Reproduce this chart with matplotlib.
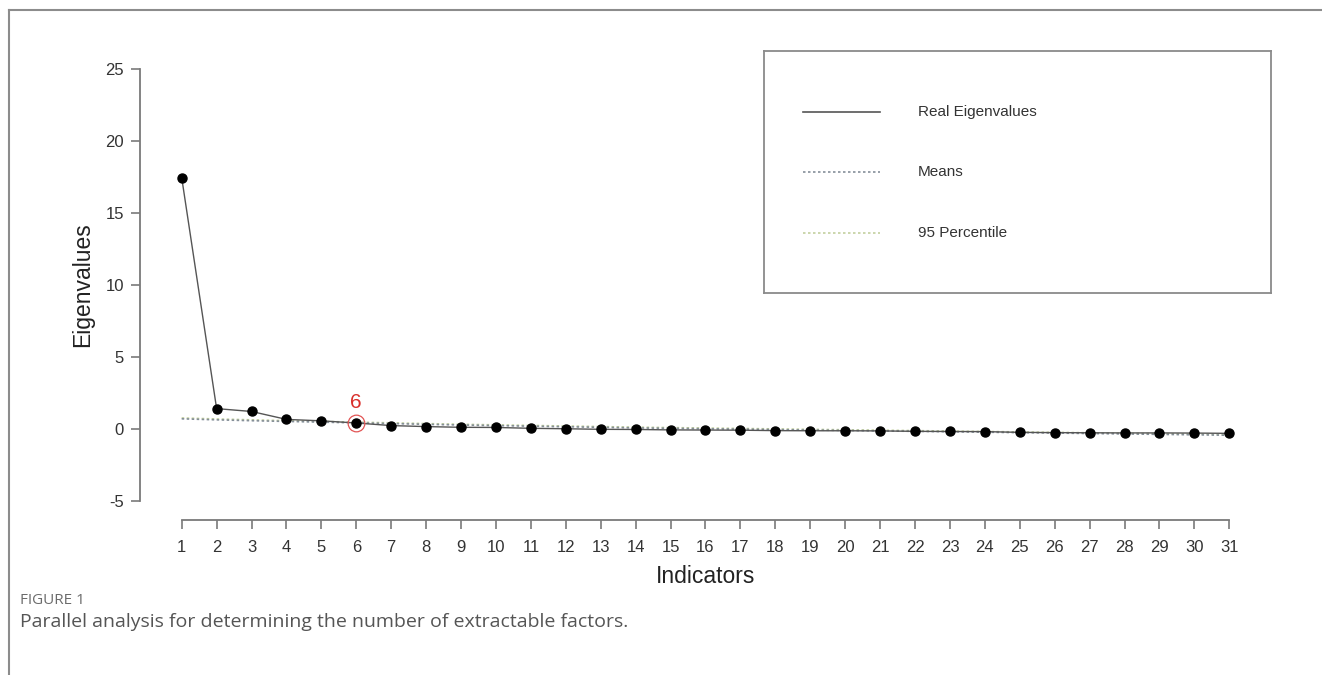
import matplotlib.pyplot as plt
from matplotlib.lines import Line2D

plt.rcParams['font.family'] = ['Liberation Sans', 'DejaVu Sans']
plt.rcParams['axes.unicode_minus'] = False

# Values
indicators = list(range(1, 32))
real_eigenvalues = [17.45, 1.40, 1.20, 0.65, 0.55, 0.40, 0.22, 0.15, 0.10, 0.09,
                    0.03, 0.00, -0.04, -0.05, -0.08, -0.09, -0.10, -0.13, -0.14, -0.14,
                    -0.15, -0.18, -0.19, -0.20, -0.25, -0.27, -0.28, -0.29, -0.29, -0.30,
                    -0.32]
means = [0.69, 0.62, 0.56, 0.51, 0.46, 0.41, 0.36, 0.31, 0.26, 0.22,
         0.18, 0.14, 0.10, 0.06, 0.03, 0.00, -0.03, -0.06, -0.09, -0.12,
         -0.15, -0.18, -0.21, -0.24, -0.27, -0.30, -0.33, -0.36, -0.39, -0.42,
         -0.45]
percentile95 = [0.75, 0.68, 0.62, 0.56, 0.51, 0.46, 0.41, 0.36, 0.31, 0.27,
                0.23, 0.19, 0.15, 0.11, 0.08, 0.05, 0.02, -0.01, -0.04, -0.07,
                -0.10, -0.13, -0.16, -0.19, -0.22, -0.25, -0.28, -0.31, -0.34, -0.37,
                -0.40]
y_ticks = [-5, 0, 5, 10, 15, 20, 25]
chosen_factor = 6
legend_labels = ["Real Eigenvalues", "Means", "95 Percentile"]

W, H = 1322, 675
fig = plt.figure(figsize=(W / 100, H / 100), dpi=100)

axis_grey = '#7a7a7a'
text_grey = '#333333'
means_color = '#858f99'
perc_color = '#c2cf9e'


def px_box(x0, y0, x1, y1):
    '''Convert pixel box (top-left origin) to figure fraction rect'''
    return [x0 / W, 1 - y1 / H, (x1 - x0) / W, (y1 - y0) / H]


# Page frame (top and left rules)
fig.add_artist(Line2D([9 / W, 9 / W], [0, 1 - 10 / H], color='#8c8c8c', lw=1.5))
fig.add_artist(Line2D([9 / W, 1], [1 - 10 / H, 1 - 10 / H], color='#8c8c8c', lw=1.5))

ax = fig.add_axes(px_box(181.7, 69, 1229.3, 500.7))
ax.set_xlim(1, 31)
ax.set_ylim(-5, 25)

ax.plot(indicators, percentile95, linestyle=(0, (1.5, 1.5)), color=perc_color, lw=1.2,
        zorder=1, clip_on=False)
ax.plot(indicators, means, linestyle=(0, (1.5, 1.5)), color=means_color, lw=1.2,
        zorder=1, clip_on=False)
ax.plot(indicators, real_eigenvalues, '-', color='#555555', lw=1.0, zorder=2,
        marker='o', markersize=6.5, markerfacecolor='black', markeredgecolor='black',
        clip_on=False)

# Highlight the chosen number of factors
idx = indicators.index(chosen_factor)
ax.plot(chosen_factor, real_eigenvalues[idx], 'o', markersize=12, markerfacecolor='none',
        markeredgecolor='#e25555', markeredgewidth=0.9, zorder=3, clip_on=False)
ax.annotate(f'{chosen_factor}', (chosen_factor, real_eigenvalues[idx]), xytext=(0, 15),
            textcoords='offset points', ha='center', va='center', fontsize=15,
            color='#d9302c')

for side in ['top', 'right']:
    ax.spines[side].set_visible(False)
ax.spines['left'].set_position(('outward', 30))
ax.spines['bottom'].set_position(('outward', 13.9))
for side in ['left', 'bottom']:
    ax.spines[side].set_color(axis_grey)
    ax.spines[side].set_linewidth(1.3)

ax.set_xticks(indicators)
ax.set_yticks(y_ticks)
ax.tick_params(axis='both', colors=axis_grey, length=6.5, width=1.2,
               labelcolor=text_grey, labelsize=12)
ax.tick_params(axis='y', pad=5)
ax.tick_params(axis='x', pad=8)

ax.set_xlabel("Indicators", fontsize=16.5, color='#222222', labelpad=7)
ax.set_ylabel("Eigenvalues", fontsize=16.5, color='#222222', labelpad=8)

# Legend box drawn as its own panel
lax = fig.add_axes(px_box(764, 51, 1271, 293))
lax.set_xlim(0, 1)
lax.set_ylim(0, 1)
lax.set_xticks([])
lax.set_yticks([])
for s in lax.spines.values():
    s.set_color('#8a8a8a')
    s.set_linewidth(1.3)
legend_styles = [dict(color='#555555', lw=1.2, linestyle='-'),
                 dict(color=means_color, lw=1.2, linestyle=(0, (1.5, 1.5))),
                 dict(color=perc_color, lw=1.2, linestyle=(0, (1.5, 1.5)))]
row_y = [1 - (112 - 51) / 242, 1 - (172 - 51) / 242, 1 - (233 - 51) / 242]
for label, style, yy in zip(legend_labels, legend_styles, row_y):
    lax.plot([(803 - 764) / 507, (880 - 764) / 507], [yy, yy], **style)
    lax.text((918 - 764) / 507, yy, label, va='center', ha='left', fontsize=11,
             color=text_grey)

# Caption
fig.text(20 / W, 1 - 600 / H, "FIGURE 1", fontsize=11, color='#6b6b6b',
         family=['Open Sans', 'DejaVu Sans'], va='center', ha='left')
fig.text(20 / W, 1 - 622 / H, "Parallel analysis for determining the number of extractable factors.",
         fontsize=14, color='#555555', family=['Open Sans', 'DejaVu Sans'],
         va='center', ha='left')

plt.savefig('out.png', dpi=100, facecolor='white')
plt.close()
